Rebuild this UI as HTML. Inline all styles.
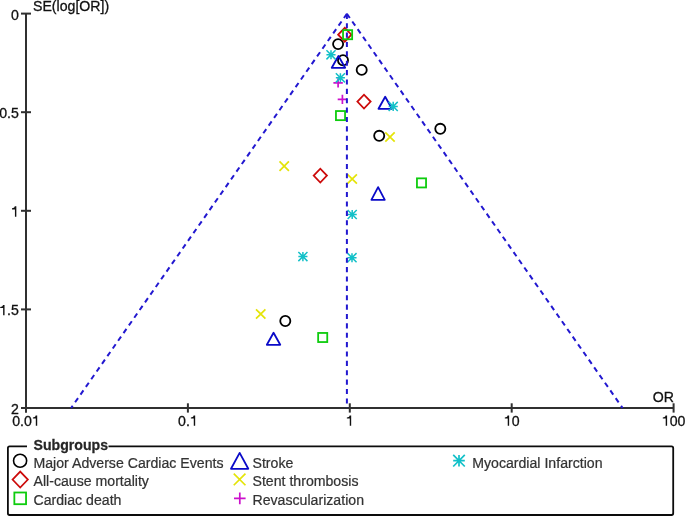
<!DOCTYPE html>
<html><head><meta charset="utf-8"><style>
html,body{margin:0;padding:0;background:#fff;}
body{width:685px;height:516px;overflow:hidden;}
svg{display:block;}
text{font-family:"Liberation Sans",sans-serif;}
</style></head><body>
<svg width="685" height="516" viewBox="0 0 685 516">

<g stroke="#303030" stroke-width="2" fill="none">
<line x1="26" y1="13.6" x2="26" y2="412.6"/>
<line x1="21" y1="408" x2="673.6" y2="408"/>
<line x1="21" y1="13.6" x2="31" y2="13.6"/>
<line x1="21" y1="112.2" x2="31" y2="112.2"/>
<line x1="21" y1="210.8" x2="31" y2="210.8"/>
<line x1="21" y1="309.4" x2="31" y2="309.4"/>
<line x1="21" y1="408.0" x2="31" y2="408.0"/>
<line x1="26.0" y1="403.3" x2="26.0" y2="412.6"/>
<line x1="187.9" y1="403.3" x2="187.9" y2="412.6"/>
<line x1="349.8" y1="403.3" x2="349.8" y2="412.6"/>
<line x1="511.7" y1="403.3" x2="511.7" y2="412.6"/>
<line x1="673.6" y1="403.3" x2="673.6" y2="412.6"/>
</g>
<g opacity="0.999" fill="#111" stroke="#111" stroke-width="0.3" font-size="14.15">
<text transform="translate(11.03 19.50) scale(1 1.035)">0</text>
<text transform="translate(-0.77 118.10) scale(1 1.035)">0</text>
<text transform="translate(7.10 118.10) scale(1 1.035)">.</text>
<text transform="translate(11.03 118.10) scale(1 1.035)">5</text>
<path transform="translate(11.03 216.70) scale(0.01415 -0.01465)" d="M375 0L276 0L276 500L70 500L70 572C170 576 245 610 265 709L375 709Z"/>
<path transform="translate(-0.77 315.30) scale(0.01415 -0.01465)" d="M375 0L276 0L276 500L70 500L70 572C170 576 245 610 265 709L375 709Z"/>
<text transform="translate(7.10 315.30) scale(1 1.035)">.</text>
<text transform="translate(11.03 315.30) scale(1 1.035)">5</text>
<text transform="translate(11.03 413.90) scale(1 1.035)">2</text>
<text transform="translate(12.23 425.80) scale(1 1.035)">0</text>
<text transform="translate(20.10 425.80) scale(1 1.035)">.</text>
<text transform="translate(24.03 425.80) scale(1 1.035)">0</text>
<path transform="translate(31.90 425.80) scale(0.01415 -0.01465)" d="M375 0L276 0L276 500L70 500L70 572C170 576 245 610 265 709L375 709Z"/>
<text transform="translate(178.06 425.80) scale(1 1.035)">0</text>
<text transform="translate(185.93 425.80) scale(1 1.035)">.</text>
<path transform="translate(189.87 425.80) scale(0.01415 -0.01465)" d="M375 0L276 0L276 500L70 500L70 572C170 576 245 610 265 709L375 709Z"/>
<path transform="translate(345.87 425.80) scale(0.01415 -0.01465)" d="M375 0L276 0L276 500L70 500L70 572C170 576 245 610 265 709L375 709Z"/>
<path transform="translate(503.83 425.80) scale(0.01415 -0.01465)" d="M375 0L276 0L276 500L70 500L70 572C170 576 245 610 265 709L375 709Z"/>
<text transform="translate(511.70 425.80) scale(1 1.035)">0</text>
<path transform="translate(661.80 425.80) scale(0.01415 -0.01465)" d="M375 0L276 0L276 500L70 500L70 572C170 576 245 610 265 709L375 709Z"/>
<text transform="translate(669.67 425.80) scale(1 1.035)">0</text>
<text transform="translate(677.53 425.80) scale(1 1.035)">0</text>
<text transform="translate(33.00 11.30) scale(1 1.035)">SE(log[OR])</text>
<text transform="translate(674.00 402.00) scale(1 1.035)" text-anchor="end">OR</text>
</g>
<circle cx="338.1" cy="44.1" r="5.05" fill="none" stroke="#000" stroke-width="1.8"/>
<circle cx="343" cy="60.2" r="5.05" fill="none" stroke="#000" stroke-width="1.8"/>
<circle cx="361.7" cy="69.9" r="5.05" fill="none" stroke="#000" stroke-width="1.8"/>
<circle cx="379.2" cy="135.8" r="5.05" fill="none" stroke="#000" stroke-width="1.8"/>
<circle cx="440.3" cy="128.8" r="5.05" fill="none" stroke="#000" stroke-width="1.8"/>
<circle cx="285.3" cy="321" r="5.05" fill="none" stroke="#000" stroke-width="1.8"/>
<path d="M338.18 34.70L344.80 27.80L351.42 34.70L344.80 41.60Z" fill="none" stroke="#cc0a0a" stroke-width="1.8"/>
<path d="M357.38 101.60L364.00 94.70L370.62 101.60L364.00 108.50Z" fill="none" stroke="#cc0a0a" stroke-width="1.8"/>
<path d="M313.68 175.60L320.30 168.70L326.92 175.60L320.30 182.50Z" fill="none" stroke="#cc0a0a" stroke-width="1.8"/>
<rect x="343.05" y="30.15" width="9.10" height="9.10" fill="none" stroke="#0ecc0e" stroke-width="1.8"/>
<rect x="335.95" y="111.05" width="9.10" height="9.10" fill="none" stroke="#0ecc0e" stroke-width="1.8"/>
<rect x="416.95" y="178.35" width="9.10" height="9.10" fill="none" stroke="#0ecc0e" stroke-width="1.8"/>
<rect x="318.15" y="332.95" width="9.10" height="9.10" fill="none" stroke="#0ecc0e" stroke-width="1.8"/>
<path d="M338.45 56.00L345.15 67.80L331.75 67.80Z" fill="none" stroke="#0a0ac8" stroke-width="1.8" stroke-linejoin="round"/>
<path d="M385.20 96.70L391.90 108.80L378.50 108.80Z" fill="none" stroke="#0a0ac8" stroke-width="1.8" stroke-linejoin="round"/>
<path d="M378.10 187.10L384.80 199.80L371.40 199.80Z" fill="none" stroke="#0a0ac8" stroke-width="1.8" stroke-linejoin="round"/>
<path d="M273.55 332.70L280.25 344.80L266.85 344.80Z" fill="none" stroke="#0a0ac8" stroke-width="1.8" stroke-linejoin="round"/>
<path d="M385.30 132.30L394.70 141.70M394.70 132.30L385.30 141.70" fill="none" stroke="#e4e408" stroke-width="1.7"/>
<path d="M279.50 161.40L288.90 170.80M288.90 161.40L279.50 170.80" fill="none" stroke="#e4e408" stroke-width="1.7"/>
<path d="M347.50 174.30L356.90 183.70M356.90 174.30L347.50 183.70" fill="none" stroke="#e4e408" stroke-width="1.7"/>
<path d="M256.00 309.30L265.40 318.70M265.40 309.30L256.00 318.70" fill="none" stroke="#e4e408" stroke-width="1.7"/>
<path d="M333.40 82.90L342.80 82.90M338.10 78.20L338.10 87.60" fill="none" stroke="#cc10cc" stroke-width="1.7"/>
<path d="M337.70 99.40L347.10 99.40M342.40 94.70L342.40 104.10" fill="none" stroke="#cc10cc" stroke-width="1.7"/>
<path d="M326.45 54.80L335.55 54.80M331.00 50.25L331.00 59.35M326.45 50.25L335.55 59.35M335.55 50.25L326.45 59.35" fill="none" stroke="#12c0c8" stroke-width="1.5"/>
<path d="M335.85 77.80L344.95 77.80M340.40 73.25L340.40 82.35M335.85 73.25L344.95 82.35M344.95 73.25L335.85 82.35" fill="none" stroke="#12c0c8" stroke-width="1.5"/>
<path d="M388.65 106.40L397.75 106.40M393.20 101.85L393.20 110.95M388.65 101.85L397.75 110.95M397.75 101.85L388.65 110.95" fill="none" stroke="#12c0c8" stroke-width="1.5"/>
<path d="M347.65 214.50L356.75 214.50M352.20 209.95L352.20 219.05M347.65 209.95L356.75 219.05M356.75 209.95L347.65 219.05" fill="none" stroke="#12c0c8" stroke-width="1.5"/>
<path d="M298.35 256.60L307.45 256.60M302.90 252.05L302.90 261.15M298.35 252.05L307.45 261.15M307.45 252.05L298.35 261.15" fill="none" stroke="#12c0c8" stroke-width="1.5"/>
<path d="M347.45 257.70L356.55 257.70M352.00 253.15L352.00 262.25M347.45 253.15L356.55 262.25M356.55 253.15L347.45 262.25" fill="none" stroke="#12c0c8" stroke-width="1.5"/>
<g stroke="#2218d0" stroke-width="2" fill="none" stroke-dasharray="5.1 4.28">
<line x1="346.9" y1="13.8" x2="346.9" y2="408"/>
<line x1="346.9" y1="13.8" x2="71.1" y2="408"/>
<line x1="346.9" y1="13.8" x2="622.6" y2="408"/>
</g>
<path d="M27 446.3 H9.6 Q7.9 446.3 7.9 448 V513.3 Q7.9 515 9.6 515 H671.5 Q673.2 515 673.2 513.3 V448 Q673.2 446.3 671.5 446.3 H108.5" fill="none" stroke="#0c0c0c" stroke-width="1.8"/>
<g opacity="0.999" font-size="14.15" font-weight="bold" fill="#262626" stroke="#262626" stroke-width="0.25">
<text transform="translate(33.50 450.30) scale(1 1.035)">Subgroups</text>
</g>
<circle cx="20.1" cy="460.75" r="6.55" fill="none" stroke="#000" stroke-width="1.6"/>
<path d="M12.52 479.60L20.20 471.60L27.88 479.60L20.20 487.60Z" fill="none" stroke="#cc0a0a" stroke-width="1.7"/>
<rect x="14.35" y="492.50" width="11.70" height="11.70" fill="none" stroke="#0ecc0e" stroke-width="1.8"/>
<path d="M239.65 452.90L248.30 468.80L231.00 468.80Z" fill="none" stroke="#0a0ac8" stroke-width="1.8" stroke-linejoin="round"/>
<path d="M233.75 473.55L245.45 485.25M245.45 473.55L233.75 485.25" fill="none" stroke="#e4e408" stroke-width="1.7"/>
<path d="M234.00 498.40L245.60 498.40M239.80 492.60L239.80 504.20" fill="none" stroke="#cc10cc" stroke-width="1.7"/>
<path d="M453.20 460.70L464.80 460.70M459.00 454.90L459.00 466.50M453.20 454.90L464.80 466.50M464.80 454.90L453.20 466.50" fill="none" stroke="#12c0c8" stroke-width="1.7"/>
<g opacity="0.999" font-size="14.15" fill="#333333" stroke="#333333" stroke-width="0.22">
<text transform="translate(33.50 467.90) scale(1 1.035)">Major Adverse Cardiac Events</text>
<text transform="translate(33.50 486.30) scale(1 1.035)">All-cause mortality</text>
<text transform="translate(33.50 505.00) scale(1 1.035)">Cardiac death</text>
<text transform="translate(252.50 467.90) scale(1 1.035)">Stroke</text>
<text transform="translate(252.50 486.30) scale(1 1.035)">Stent thrombosis</text>
<text transform="translate(252.50 505.00) scale(1 1.035)">Revascularization</text>
<text transform="translate(472.20 467.90) scale(1 1.035)">Myocardial Infarction</text>
</g>
</svg></body></html>
